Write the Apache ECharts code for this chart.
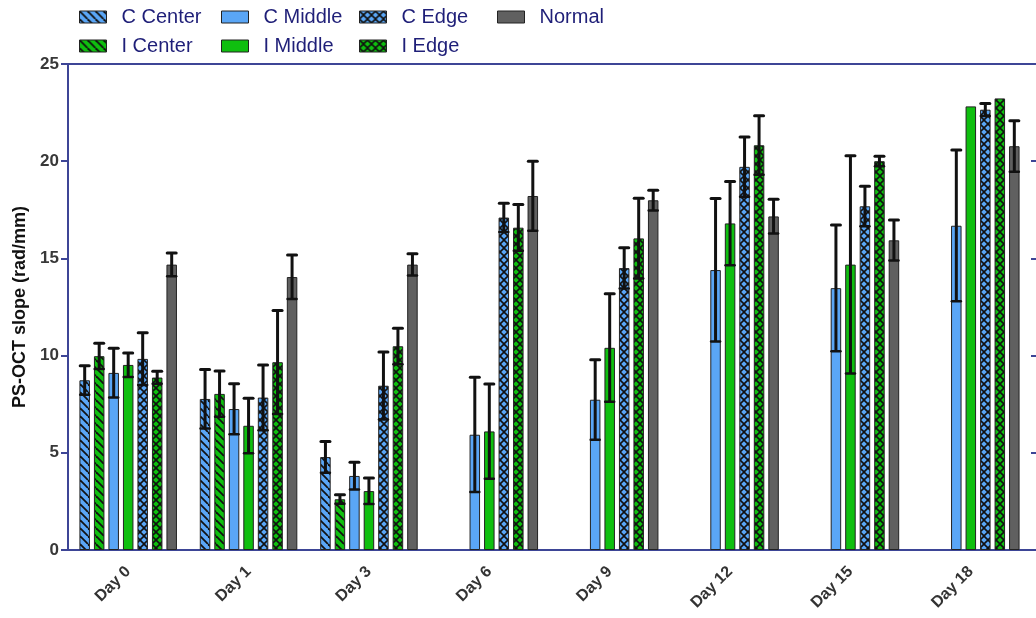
<!DOCTYPE html>
<html>
<head>
<meta charset="utf-8">
<script src="https://cdn.jsdelivr.net/npm/echarts@6/dist/echarts.min.js"></script>
<style>
  html, body { margin: 0; padding: 0; background: #ffffff; }
  #chart { width: 1036px; height: 618px; }
</style>
</head>
<body>
<div id="chart"></div>
<script>
// Time points on the x axis
const categories = ['Day 0', 'Day 1', 'Day 3', 'Day 6', 'Day 9', 'Day 12', 'Day 15', 'Day 18'];
const yTicks = { min: 0, max: 25, step: 5 };

// Mean PS-OCT slope (rad/mm) per group, and its error (±)
const cCenter    = [8.73, 7.77, 4.78, null, null, null, null, null];
const cCenterErr = [0.75, 1.52, 0.80, null, null, null, null, null];
const iCenter    = [9.97, 8.03, 2.61, null, null, null, null, null];
const iCenterErr = [0.66, 1.18, 0.23, null, null, null, null, null];
const cMiddle    = [9.11, 7.25, 3.81, 5.93, 7.73, 14.40, 13.47, 16.68];
const cMiddleErr = [1.27, 1.30, 0.70, 2.95, 2.06, 3.68, 3.25, 3.89];
const iMiddle    = [9.52, 6.39, 3.03, 6.10, 10.40, 16.80, 14.68, 22.82];
const iMiddleErr = [0.62, 1.41, 0.67, 2.44, 2.78, 2.15, 5.60, null];
const cEdge      = [9.83, 7.84, 8.45, 17.10, 14.50, 19.71, 17.68, 22.65];
const cEdgeErr   = [1.34, 1.68, 1.74, 0.74, 1.05, 1.54, 1.03, 0.32];
const iEdge      = [8.87, 9.66, 10.48, 16.58, 16.03, 20.82, 20.00, 23.23];
const iEdgeErr   = [0.32, 2.66, 0.93, 1.19, 2.06, 1.52, 0.26, null];
const normal     = [14.68, 14.04, 14.68, 18.21, 17.99, 17.16, 15.93, 20.77];
const normalErr  = [0.60, 1.13, 0.56, 1.79, 0.52, 0.88, 1.04, 1.31];

const BLUE = '#5aa6f6';
const GREEN = '#0fbf0f';
const GRAY = '#606060';
const AXIS = '#3d4596';
const FONT = 'Liberation Sans, Arial, sans-serif';

// Fill patterns: diagonal hatch ("\") and crosshatch
function makePattern(base, cross) {
  const s = 8;
  const c = document.createElement('canvas');
  c.width = s; c.height = s;
  const g = c.getContext('2d');
  g.fillStyle = base;
  g.fillRect(0, 0, s, s);
  g.strokeStyle = '#111';
  g.lineWidth = cross ? 1.6 : 1.8;
  for (let k = -s; k <= s; k += s) {
    g.beginPath(); g.moveTo(k, 0); g.lineTo(k + s, s); g.stroke();
    if (cross) { g.beginPath(); g.moveTo(k, s); g.lineTo(k + s, 0); g.stroke(); }
  }
  return { image: c, repeat: 'repeat' };
}

const BAR_W = 10.5;
const BAR_GAP = 4;
const groups = [
  { name: 'C Center', values: cCenter, errs: cCenterErr, color: makePattern(BLUE, false) },
  { name: 'I Center', values: iCenter, errs: iCenterErr, color: makePattern(GREEN, false) },
  { name: 'C Middle', values: cMiddle, errs: cMiddleErr, color: BLUE },
  { name: 'I Middle', values: iMiddle, errs: iMiddleErr, color: GREEN },
  { name: 'C Edge',   values: cEdge,   errs: cEdgeErr,   color: makePattern(BLUE, true) },
  { name: 'I Edge',   values: iEdge,   errs: iEdgeErr,   color: makePattern(GREEN, true) },
  { name: 'Normal',   values: normal,  errs: normalErr,  color: GRAY }
];

const n = groups.length;
function slotOffset(i) {
  const total = n * BAR_W + (n - 1) * BAR_GAP;
  return -total / 2 + BAR_W / 2 + i * (BAR_W + BAR_GAP);
}

const series = [];
groups.forEach((grp) => {
  series.push({
    type: 'bar',
    name: grp.name,
    data: grp.values,
    barWidth: BAR_W,
    barGap: (BAR_GAP / BAR_W * 100).toFixed(1) + '%',
    itemStyle: { color: grp.color, borderColor: '#222', borderWidth: 1 },
    emphasis: { disabled: true },
    z: 2
  });
});
groups.forEach((grp, i) => {
  series.push({
    type: 'custom',
    name: grp.name + ' error',
    silent: true,
    z: 5,
    data: grp.values.map((v, k) => [k, v == null ? NaN : v, grp.errs[k] == null ? NaN : grp.errs[k]]),
    renderItem: function (params, api) {
      const cat = api.value(0), m = api.value(1), e = api.value(2);
      if (isNaN(m) || isNaN(e) || !e) return null;
      const x = api.coord([cat, m])[0] + slotOffset(i);
      const yt = api.coord([cat, m + e])[1];
      const yb = api.coord([cat, m - e])[1];
      const capW = 4.5;
      return {
        type: 'group',
        children: [
          { type: 'line', shape: { x1: x, y1: yt, x2: x, y2: yb }, style: { stroke: '#111', lineWidth: 3 } },
          { type: 'line', shape: { x1: x - capW, y1: yt, x2: x + capW, y2: yt }, style: { stroke: '#111', lineWidth: 3, lineCap: 'round' } },
          { type: 'line', shape: { x1: x - capW, y1: yb, x2: x + capW, y2: yb }, style: { stroke: '#111', lineWidth: 2.5, lineCap: 'round' } }
        ]
      };
    }
  });
});

// One legend block per entry, laid out in two rows
const legendSlots = [
  ['C Center', 79, 7], ['C Middle', 221, 7], ['C Edge', 359, 7], ['Normal', 497, 7],
  ['I Center', 79, 36], ['I Middle', 221, 36], ['I Edge', 359, 36]
];
const legends = legendSlots.map(([name, left, top]) => ({
  data: [name],
  left: left,
  top: top,
  padding: 0,
  icon: 'rect',
  itemWidth: 27,
  itemHeight: 12,
  selectedMode: false,
  itemStyle: { borderColor: '#222', borderWidth: 1 },
  textStyle: { fontSize: 20, color: '#1f1f78', fontFamily: FONT, padding: [0, 0, 0, 10] }
}));

const chart = echarts.init(document.getElementById('chart'), null, { renderer: 'canvas' });
chart.setOption({
  animation: false,
  backgroundColor: '#ffffff',
  legend: legends,
  grid: { left: 68, right: 5, top: 64, bottom: 68, outerBoundsMode: 'none', containLabel: false },
  xAxis: [
    {
      type: 'category',
      data: categories,
      position: 'bottom',
      axisLine: { onZero: false, lineStyle: { color: AXIS, width: 2 } },
      axisTick: { alignWithLabel: true, length: 7, lineStyle: { color: AXIS, width: 2 } },
      axisLabel: { rotate: 45, margin: 19, fontSize: 16, fontWeight: 'bold', color: '#333', fontFamily: FONT },
      splitLine: { show: false }
    },
    {
      type: 'category',
      data: categories,
      position: 'top',
      axisLine: { onZero: false, lineStyle: { color: AXIS, width: 2 } },
      axisTick: { inside: true, alignWithLabel: true, length: 5, lineStyle: { color: AXIS, width: 2 } },
      axisLabel: { show: false },
      splitLine: { show: false }
    }
  ],
  yAxis: [
    {
      type: 'value',
      min: yTicks.min,
      max: yTicks.max,
      interval: yTicks.step,
      name: 'PS-OCT slope (rad/mm)',
      nameLocation: 'middle',
      nameGap: 36,
      nameTextStyle: { fontSize: 18, fontWeight: 'bold', color: '#111', fontFamily: FONT },
      axisLine: { show: true, onZero: false, lineStyle: { color: AXIS, width: 2 } },
      axisTick: { show: true, length: 7, lineStyle: { color: AXIS, width: 2 } },
      axisLabel: { margin: 9, fontSize: 17, fontWeight: 'bold', color: '#383838', fontFamily: FONT },
      splitLine: { show: false }
    },
    {
      type: 'value',
      position: 'right',
      min: yTicks.min,
      max: yTicks.max,
      interval: yTicks.step,
      axisLine: { show: false },
      axisTick: { show: true, length: 5, lineStyle: { color: AXIS, width: 2 } },
      axisLabel: { show: false },
      splitLine: { show: false }
    }
  ],
  series: series
});
</script>
</body>
</html>
